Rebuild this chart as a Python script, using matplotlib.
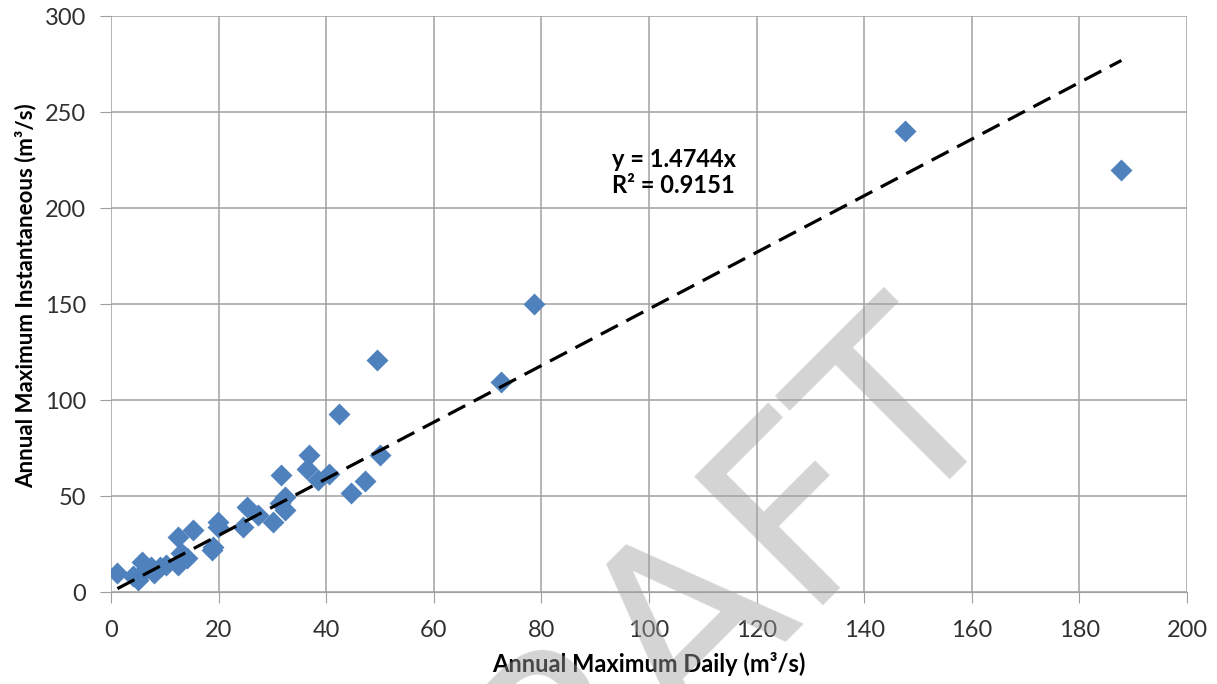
import matplotlib.pyplot as plt
import numpy as np

# valores
daily = [1.2, 4.1, 5.1, 5.7, 6.3, 7.5, 8.0, 9.1, 10.3, 12.5, 12.5, 13.1, 13.5, 14.1,
         15.3, 18.7, 19.0, 19.9, 19.9, 24.6, 25.2, 27.4, 30.2, 31.4, 31.6, 32.3, 32.3,
         36.4, 36.8, 38.5, 40.5, 42.3, 44.7, 47.2, 50.0, 49.4, 72.5, 78.6, 147.5, 187.8]
inst = [10.0, 8.3, 6.3, 15.8, 11.5, 13.2, 10.0, 13.2, 14.1, 28.8, 14.1, 20.2, 19.0, 17.6,
        32.3, 21.9, 23.6, 36.6, 34.0, 33.7, 44.4, 40.1, 36.6, 46.2, 60.9, 49.6, 42.7,
        63.9, 71.4, 58.3, 61.5, 92.7, 51.7, 58.0, 71.4, 120.8, 109.4, 150.0, 240.0, 220.0]
slope = 1.4744
r2 = 0.9151

xticks = list(range(0, 201, 20))
yticks = list(range(0, 301, 50))

plt.rcParams['font.family'] = ['Lato', 'DejaVu Sans']

fig = plt.figure(figsize=(12.17, 6.84), dpi=100)
ax = fig.add_axes([0.0912, 0.1345, 0.8842, 0.842])

ax.scatter(daily, inst, marker='D', s=125, color='#4F81BD', zorder=3, linewidths=0)

# linea de tendencia por el origen
xt = np.array([min(daily), max(daily)])
ax.plot(xt, slope * xt, color='black', lw=2.3, linestyle=(0, (6, 3)), zorder=4)

ax.text(104.6, 218.5, f'y = {slope}x\nR² = {r2}', ha='center', va='center',
        fontsize=17, fontweight='bold', linespacing=1.2, zorder=5)

ax.set_xlim(0, 200)
ax.set_ylim(0, 300)
ax.set_xticks(xticks)
ax.set_yticks(yticks)
ax.grid(True, color='#a0a0a0', lw=1.1)
ax.set_axisbelow(True)
for s in ax.spines.values():
    s.set_visible(False)
ax.spines['bottom'].set_visible(True)
ax.spines['bottom'].set_color('#a0a0a0')
ax.tick_params(axis='both', length=8, color='#a0a0a0', labelsize=17, labelcolor='#303030')
ax.tick_params(axis='x', pad=12)
ax.tick_params(axis='y', pad=10)

ax.set_xlabel('Annual Maximum Daily (m³/s)', fontsize=17, fontweight='bold', labelpad=8)
ax.set_ylabel('Annual Maximum Instantaneous (m³/s)', fontsize=16, fontweight='bold', labelpad=6)
ax.yaxis.set_label_coords(-0.069, 0.515)

# marca de agua
fig.text(1006 / 1217, 1 - 399 / 684, 'DRAFT', rotation=45, rotation_mode='anchor',
         ha='right', va='baseline', fontsize=180, color='#a0a0a0', alpha=0.45,
         family='DejaVu Sans', zorder=10)

plt.savefig('out.png', dpi=100)
